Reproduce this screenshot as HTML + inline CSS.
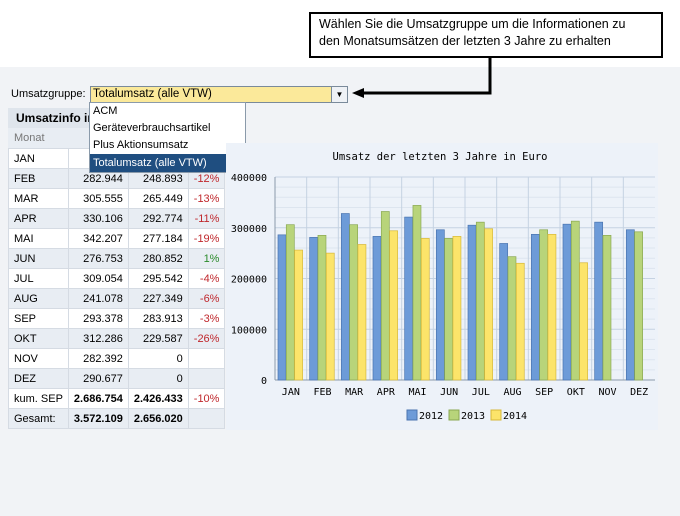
<!DOCTYPE html>
<html><head><meta charset="utf-8"><style>
body{margin:0;width:680px;height:516px;position:relative;background:#fff;font-family:"Liberation Sans",sans-serif;overflow:hidden}
.abs{position:absolute}
table{border-collapse:collapse;font-size:11px}
td{border:1px solid #d5dbe3;height:19px;padding:0 5px;white-space:nowrap}
td.n{text-align:right}
.neg{color:#c0282d}.pos{color:#2a8a2a}
tr:nth-child(even) td{background:#e8edf3}
tr:nth-child(odd) td{background:#fff}
</style></head><body>
<div class="abs" style="left:0;top:67px;width:680px;height:449px;background:#f1f3f6"></div>
<div class="abs" style="left:309px;top:12px;width:342px;height:40px;border:2px solid #000;background:#fff;font-size:12.5px;line-height:17px;padding:2px 0 0 8px;box-sizing:content-box">Wählen Sie die Umsatzgruppe um die Informationen zu<br>den Monatsumsätzen der letzten 3 Jahre zu erhalten</div>
<svg class="abs" style="left:0;top:0" width="680" height="110"><path d="M490 56 V93 H362" stroke="#000" stroke-width="3" fill="none"/><polygon points="352,93 364,88 364,98" fill="#000"/></svg>
<div class="abs" style="left:11px;top:88px;font-size:11px">Umsatzgruppe:</div>
<div class="abs" style="left:90px;top:86px;width:254px;height:15px;border:1px solid #7a8a9a;background:#fbe99a;font-size:11.5px;line-height:15px;padding-left:2px">Totalumsatz (alle VTW)<div style="position:absolute;right:0;top:0;width:15px;height:15px;background:#eef1f5;border-left:1px solid #7a8a9a;text-align:center;font-size:8px">▼</div></div>
<div class="abs" style="left:8px;top:108px;width:216px;height:20px;background:#dfe5ec;font-weight:bold;font-size:12px;line-height:20px;padding-left:8px;box-sizing:border-box">Umsatzinfo in</div>
<div class="abs" style="left:8px;top:128px;width:216px;height:20px;background:#e8edf3;color:#777;font-size:11px;line-height:20px;padding-left:6px;box-sizing:border-box">Monat</div>
<table class="abs" style="left:8px;top:148px;width:216px">
<colgroup><col style="width:60px"><col style="width:59px"><col style="width:58px"><col style="width:39px"></colgroup>
<tr><td>JAN</td><td class="n">3</td><td class="n"></td><td class="n"></td></tr>
<tr><td>FEB</td><td class="n">282.944</td><td class="n">248.893</td><td class="n neg">-12%</td></tr>
<tr><td>MAR</td><td class="n">305.555</td><td class="n">265.449</td><td class="n neg">-13%</td></tr>
<tr><td>APR</td><td class="n">330.106</td><td class="n">292.774</td><td class="n neg">-11%</td></tr>
<tr><td>MAI</td><td class="n">342.207</td><td class="n">277.184</td><td class="n neg">-19%</td></tr>
<tr><td>JUN</td><td class="n">276.753</td><td class="n">280.852</td><td class="n pos">1%</td></tr>
<tr><td>JUL</td><td class="n">309.054</td><td class="n">295.542</td><td class="n neg">-4%</td></tr>
<tr><td>AUG</td><td class="n">241.078</td><td class="n">227.349</td><td class="n neg">-6%</td></tr>
<tr><td>SEP</td><td class="n">293.378</td><td class="n">283.913</td><td class="n neg">-3%</td></tr>
<tr><td>OKT</td><td class="n">312.286</td><td class="n">229.587</td><td class="n neg">-26%</td></tr>
<tr><td>NOV</td><td class="n">282.392</td><td class="n">0</td><td></td></tr>
<tr><td>DEZ</td><td class="n">290.677</td><td class="n">0</td><td></td></tr>
<tr><td>kum. SEP</td><td class="n"><b>2.686.754</b></td><td class="n"><b>2.426.433</b></td><td class="n neg">-10%</td></tr>
<tr><td>Gesamt:</td><td class="n"><b>3.572.109</b></td><td class="n"><b>2.656.020</b></td><td></td></tr>
</table>
<div class="abs" style="left:89px;top:102px;width:155px;height:69px;background:#fff;border:1px solid #8a9aaa;font-size:11px">
<div style="height:17px;line-height:17px;padding-left:3px">ACM</div>
<div style="height:17px;line-height:17px;padding-left:3px">Geräteverbrauchsartikel</div>
<div style="height:17px;line-height:17px;padding-left:3px">Plus Aktionsumsatz</div>
<div style="height:18px;line-height:18px;padding-left:3px;background:#1f4e80;color:#fff">Totalumsatz (alle VTW)</div>
</div>
<svg class="abs" id="chart" style="left:0;top:0" width="680" height="516"></svg>
<script>
const categories=["JAN","FEB","MAR","APR","MAI","JUN","JUL","AUG","SEP","OKT","NOV","DEZ"];
const s2012=[286000,281000,328000,283000,321000,296000,305000,269000,287000,307000,311000,296000];
const s2013=[306000,285000,306000,332000,344000,279000,311000,243000,296000,313000,285000,292000];
const s2014=[256000,250000,267000,294000,279000,283000,298000,230000,287000,231000,null,null];
const yTicks=[0,100000,200000,300000,400000];
const seriesNames=["2012","2013","2014"];
const colors=["#6d9bd8","#b8d47a","#fce46a"],strokes=["#4a74b0","#8aa852","#d6b83a"];
const svg=document.getElementById('chart'),NS="http://www.w3.org/2000/svg";
function mk(t,a,p){const e=document.createElementNS(NS,t);for(const k in a)e.setAttribute(k,a[k]);(p||svg).appendChild(e);return e;}
const x0=275,x1=655,y0=380,yTop=177;
const y=v=>y0-(v/400000)*(y0-yTop);
const gw=(x1-x0)/12;
const bg=mk('rect',{x:226,y:143,width:432,height:287,fill:"#edf2f9"});

const tt=mk('text',{x:440,y:160,'text-anchor':'middle','font-size':10.5,'font-family':'DejaVu Sans Mono, Liberation Mono, monospace'});
tt.textContent="Umsatz der letzten 3 Jahre in Euro";

for(let v=0;v<=400000;v+=20000){const g=mk('line',{x1:x0,x2:x1,y1:y(v),y2:y(v),stroke:v%100000?"#dde5ef":"#c5d2e2"});}
categories.forEach((c,i)=>{const g=mk('line',{x1:x0+gw*i,x2:x0+gw*i,y1:yTop,y2:y0,stroke:"#c5d2e2"});});
mk('line',{x1:x0,x2:x1,y1:y0,y2:y0,stroke:"#8a9aaa"});
mk('line',{x1:x0,x2:x0,y1:yTop,y2:y0,stroke:"#8a9aaa"});
yTicks.forEach(v=>{const t=mk('text',{x:x0-8,y:y(v)+4,'text-anchor':'end','font-size':10,'font-family':'DejaVu Sans Mono, Liberation Mono, monospace'});t.textContent=v;});
const series=[s2012,s2013,s2014];
categories.forEach((c,i)=>{
 series.forEach((s,j)=>{if(s[i]==null)return;
  const r=mk('rect',{x:x0+gw*i+3+j*8.3,y:y(s[i]),width:8,height:y0-y(s[i]),fill:colors[j],stroke:strokes[j],'stroke-width':0.7});
  });
 const t=mk('text',{x:x0+gw*(i+0.5),y:395,'text-anchor':'middle','font-size':10,'font-family':'DejaVu Sans Mono, Liberation Mono, monospace'});
 t.textContent=c;
});
seriesNames.forEach((n,j)=>{
 const lx=407+j*42;
 const r=mk('rect',{x:lx,y:410,width:10,height:10,fill:colors[j],stroke:strokes[j]});
 
 const t=mk('text',{x:lx+12,y:419,'font-size':10,'font-family':'DejaVu Sans Mono, Liberation Mono, monospace'});
 t.textContent=n;
});
</script>
</body></html>
